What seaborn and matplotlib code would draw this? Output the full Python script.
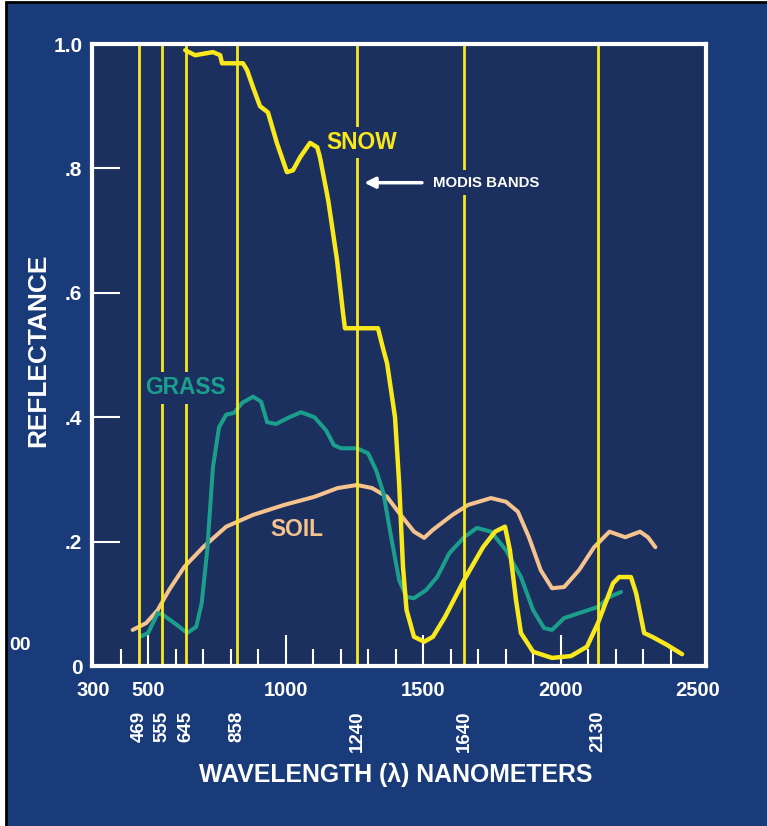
import numpy as np
import pandas as pd
import matplotlib
matplotlib.use("Agg")
import matplotlib.pyplot as plt
import seaborn as sns
from matplotlib.patches import Rectangle
from matplotlib.ticker import MultipleLocator

# Curvas de reflectancia (nm, reflectancia)
snow_nm = [635, 671, 736, 762, 769, 845, 860, 882, 907, 936, 969, 1005, 1027, 1053,
           1089, 1115, 1125, 1155, 1187, 1209, 1216, 1336, 1356, 1369, 1398, 1413,
           1427, 1440, 1467, 1504, 1536, 1580, 1649, 1718, 1762, 1798, 1816, 1838,
           1856, 1900, 1969, 2038, 2096, 2136, 2191, 2213, 2256, 2275, 2304, 2333,
           2387, 2442]
snow_refl = [.99, .982, .987, .982, .969, .969, .958, .93, .90, .89, .84, .794, .797,
             .818, .841, .834, .818, .749, .653, .567, .543, .543, .508, .487, .40,
             .294, .159, .09, .047, .039, .047, .079, .138, .191, .216, .224, .186,
             .106, .053, .023, .013, .016, .031, .069, .133, .143, .143, .117, .053,
             .047, .034, .019]

grass_nm = [471, 500, 535, 555, 605, 642, 675, 695, 715, 736, 758, 784, 813, 842, 882,
            911, 933, 965, 1009, 1056, 1105, 1147, 1176, 1202, 1260, 1300, 1329, 1356,
            1384, 1413, 1440, 1467, 1511, 1551, 1595, 1649, 1696, 1747, 1802, 1856,
            1900, 1940, 1969, 2013, 2067, 2136, 2178, 2220]
grass_refl = [.047, .053, .085, .082, .066, .053, .063, .101, .186, .32, .384, .404,
              .407, .423, .433, .425, .392, .389, .399, .408, .40, .379, .355, .35, .35,
              .342, .315, .278, .207, .138, .111, .109, .122, .143, .181, .207, .222,
              .216, .186, .143, .09, .061, .058, .077, .085, .095, .111, .119]

soil_nm = [444, 493, 535, 576, 631, 700, 784, 882, 995, 1105, 1189, 1260, 1315, 1369,
           1413, 1467, 1504, 1536, 1607, 1664, 1747, 1802, 1845, 1885, 1928, 1969,
           2013, 2067, 2122, 2178, 2235, 2289, 2318, 2345]
soil_refl = [.058, .069, .09, .122, .159, .191, .224, .243, .259, .272, .286, .291,
             .286, .272, .246, .216, .206, .219, .243, .259, .27, .264, .248, .207,
             .154, .125, .127, .154, .191, .216, .207, .216, .207, .191]

# Bandas MODIS: posición de la línea en el gráfico y su etiqueta
band_pos = [467, 551, 638, 824, 1260, 1649, 2136]
band_labels = ["469", "555", "645", "858", "1240", "1640", "2130"]

x_ticks = [300, 500, 1000, 1500, 2000, 2500]
y_ticks = [0, .2, .4, .6, .8, 1.0]
y_tick_labels = ["0", ".2", ".4", ".6", ".8", "1.0"]

outer_bg = "#1a3b7a"
plot_bg = "#1c305f"
yellow = "#f8e81c"
teal = "#1b9e8c"
peach = "#f5c38e"

sns.set_style("white")
plt.rcParams["font.family"] = ["Liberation Sans", "DejaVu Sans"]
plt.rcParams["font.weight"] = "bold"

fig = plt.figure(figsize=(7.67, 8.26), dpi=100)
fig.patch.set_facecolor("white")
fig.add_artist(Rectangle((6 / 767, -0.05), 1.2, 1.05 - 2 / 826, transform=fig.transFigure,
                         facecolor=outer_bg, edgecolor="black", lw=2, zorder=0))

ax = fig.add_axes([92 / 767, 1 - 666 / 826, 614 / 767, 622 / 826])
ax.set_facecolor(plot_bg)

df_soil = pd.DataFrame({"nm": soil_nm, "refl": soil_refl})
df_grass = pd.DataFrame({"nm": grass_nm, "refl": grass_refl})
df_snow = pd.DataFrame({"nm": snow_nm, "refl": snow_refl})

line_kw = dict(solid_joinstyle="round", solid_capstyle="round")
sns.lineplot(data=df_soil, x="nm", y="refl", ax=ax, color=peach, zorder=2,
             linewidth=2.9, **line_kw)
sns.lineplot(data=df_grass, x="nm", y="refl", ax=ax, color=teal, zorder=2,
             linewidth=2.9, **line_kw)

for b in band_pos:
    ax.axvline(b, color=yellow, lw=2.0, zorder=3)

sns.lineplot(data=df_snow, x="nm", y="refl", ax=ax, color=yellow, zorder=4,
             linewidth=3.2, **line_kw)

ax.set_xlim(296, 2529)
ax.set_ylim(0, 1.0)

# Ejes y marcas
for s in ax.spines.values():
    s.set_color("white")
    s.set_linewidth(3)
    s.set_visible(True)
    s.set_zorder(6)

ax.set_xticks(x_ticks)
ax.set_xticklabels([str(t) for t in x_ticks])
ax.xaxis.set_minor_locator(MultipleLocator(100))
ax.set_yticks(y_ticks)
ax.set_yticklabels(y_tick_labels)
ax.tick_params(axis="x", which="major", direction="in", length=22, width=1.5,
               colors="white", labelsize=14.5, pad=11, bottom=True)
ax.tick_params(axis="x", which="minor", direction="in", length=12, width=1.5,
               colors="white", bottom=True)
ax.tick_params(axis="y", which="major", direction="in", length=20, width=1.5,
               colors="white", labelsize=15, pad=7, left=True)
for t in ax.xaxis.get_major_ticks():
    if t.get_loc() in (300, 2500):
        t.tick1line.set_visible(False)
ax.set_xlabel("")
ax.set_ylabel("")

# Etiquetas de bandas
for b, lab in zip(band_pos, band_labels):
    ax.text(b, -0.072, lab, rotation=90, ha="center", va="top", color="white",
            fontsize=13.5, fontweight="bold", transform=ax.get_xaxis_transform(),
            clip_on=False)

# Textos dentro del gráfico
box = dict(facecolor=plot_bg, edgecolor="none", pad=3)
ax.text(1147, 0.842, "SNOW", color=yellow, fontsize=16.4, fontweight="bold",
        ha="left", va="center", bbox=box, zorder=5)
ax.text(489, 0.447, "GRASS", color=teal, fontsize=16.4, fontweight="bold",
        ha="left", va="center", bbox=box, zorder=5)
ax.text(944, 0.219, "SOIL", color=peach, fontsize=16.4, fontweight="bold",
        ha="left", va="center", zorder=5)
ax.text(1536, 0.777, "MODIS BANDS", color="white", fontsize=10.8, fontweight="bold",
        ha="left", va="center", bbox=dict(facecolor=plot_bg, edgecolor="none", pad=4),
        zorder=5)
ax.annotate("", xy=(1276, 0.777), xytext=(1506, 0.777),
            arrowprops=dict(arrowstyle="-|>", color="white", lw=2.5, mutation_scale=16),
            zorder=5)

fig.text(396 / 767, 1 - 775 / 826, "WAVELENGTH (\u03bb) NANOMETERS", color="white",
         fontsize=17.9, fontweight="bold", ha="center", va="center")
fig.text(38 / 767, 1 - 350 / 826, "REFLECTANCE", color="white", fontsize=18.9,
         fontweight="bold", ha="center", va="center", rotation=90)
fig.text(9 / 767, 1 - 645 / 826, "00", color="white", fontsize=14,
         fontweight="bold", ha="left", va="center")

fig.savefig("out.png", dpi=100, facecolor=fig.get_facecolor())
